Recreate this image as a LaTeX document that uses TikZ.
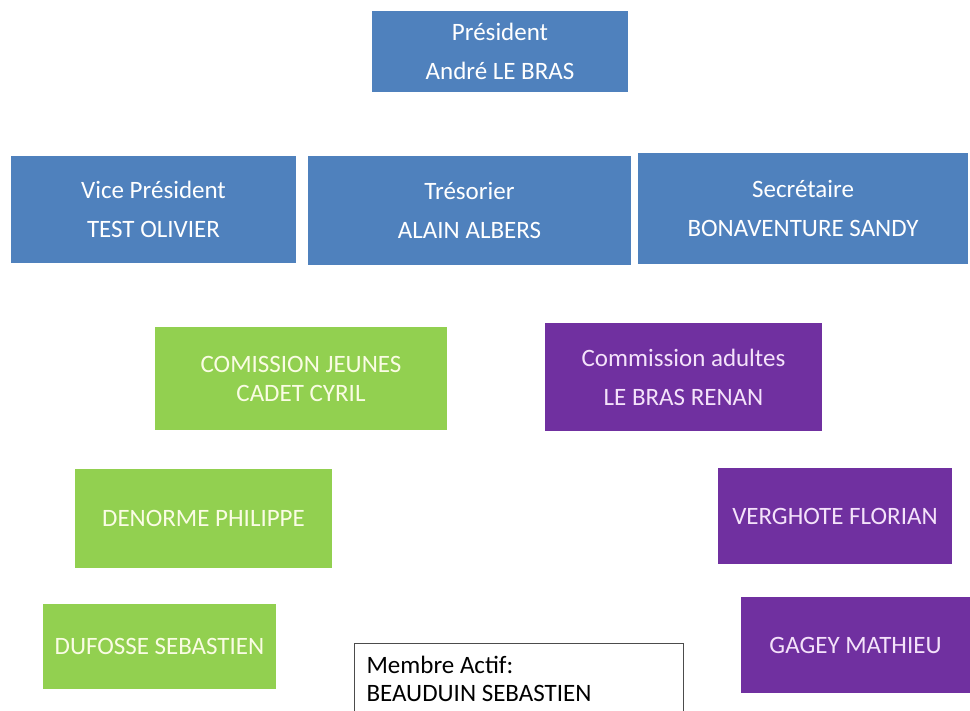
\documentclass[tikz,border=0pt]{standalone}
\usepackage{fontspec}
\setmainfont{Carlito}
\usepackage{tikz}
\usepackage{xcolor}
\usetikzlibrary{positioning}
\definecolor{bureaublue}{RGB}{79,129,189}
\definecolor{jeunesgreen}{RGB}{146,208,80}
\definecolor{adultespurple}{RGB}{112,48,160}
\definecolor{greentext}{RGB}{250,252,228}
\definecolor{purpletext}{RGB}{244,226,250}

\tikzset{
  orgbox/.style={rectangle, inner sep=0pt, align=center, font=\fontsize{25}{39}\selectfont},
  bluebox/.style={orgbox, fill=bureaublue, text=white},
  greenbox/.style={orgbox, fill=jeunesgreen, text=greentext},
  purplebox/.style={orgbox, fill=adultespurple, text=purpletext},
  membrebox/.style={rectangle, draw=black!70, line width=1.2pt, fill=white, align=flush left,
    inner xsep=12pt, inner ysep=13pt, anchor=north west, font=\fontsize{25}{28}\selectfont}
}

\begin{document}
\begin{tikzpicture}[x=1pt, y=-1pt]
\useasboundingbox (0,0) rectangle (970,711);
\clip (0,0) rectangle (970,711);

% Bureau
\node[bluebox, minimum width=256pt, minimum height=81pt] (president) at (500,51.5) {Président\\André LE BRAS};
\node[bluebox, minimum width=285pt, minimum height=107pt] (vice) at (153.5,209.5) {Vice Président\\TEST OLIVIER};
\node[bluebox, minimum width=323pt, minimum height=109pt] (tresorier) at (469.5,210.5) {Trésorier\\ALAIN ALBERS};
\node[bluebox, minimum width=330pt, minimum height=111pt] (secretaire) at (803,208.5) {Secrétaire\\BONAVENTURE SANDY};

% Commission jeunes
\node[greenbox, minimum width=292pt, minimum height=103pt, font=\fontsize{25}{29}\selectfont] (jeunes) at (301,378.5) {COMISSION JEUNES\\CADET CYRIL};
\node[greenbox, minimum width=257pt, minimum height=99pt] (denorme) at (203.5,518.5) {DENORME PHILIPPE};
\node[greenbox, minimum width=233pt, minimum height=85pt] (dufosse) at (159.5,646.5) {DUFOSSE SEBASTIEN};

% Commission adultes
\node[purplebox, minimum width=277pt, minimum height=108pt] (adultes) at (683.5,377) {Commission adultes\\LE BRAS RENAN};
\node[purplebox, minimum width=234pt, minimum height=96pt] (verghote) at (835,516) {VERGHOTE FLORIAN};
\node[purplebox, minimum width=229pt, minimum height=96pt] (gagey) at (855.5,645) {GAGEY MATHIEU};

% Membre actif
\node[membrebox, text width=305pt] (membre) at (354,643) {Membre Actif:\\BEAUDUIN SEBASTIEN};
\end{tikzpicture}
\end{document}
